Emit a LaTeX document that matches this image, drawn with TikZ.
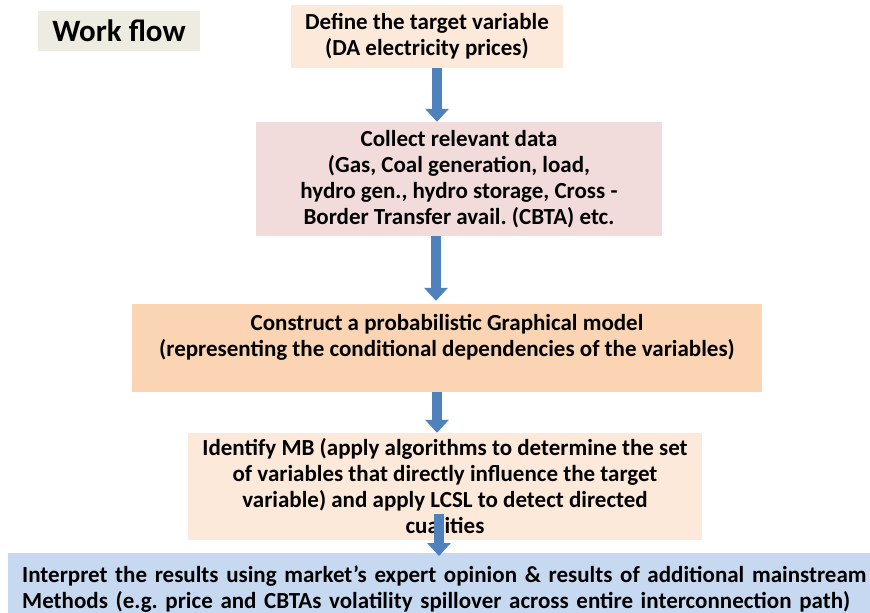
\documentclass[tikz,border=0pt]{standalone}
\usepackage{fontspec}
\setmainfont{Carlito}
\usetikzlibrary{arrows.meta,calc}

\definecolor{titlebg}{HTML}{EEECE1}
\definecolor{peach}{HTML}{FDE9D9}
\definecolor{rose}{HTML}{F2DCDB}
\definecolor{apricot}{HTML}{FBD4B4}
\definecolor{skyblue}{HTML}{C6D9F1}
\definecolor{arrowblue}{HTML}{4F81BD}

\tikzset{
  box/.style={rectangle, draw=none, inner sep=0pt, align=center,
    font=\fontsize{23}{26}\selectfont\bfseries\frenchspacing},
  flowarrow/.style={draw=arrowblue, line width=10pt,
    -{Triangle[width=23pt,length=13pt,fill=arrowblue]}},
}

\begin{document}
\begin{tikzpicture}[x=1pt,y=-1pt]
  \useasboundingbox (0,0) rectangle (870,613);

  % heading
  \node[box, fill=titlebg, minimum width=162pt, minimum height=40pt,
        font=\fontsize{31}{34}\selectfont\bfseries] (title) at (119,31) {Work flow};

  % workflow steps
  \node[box, fill=peach, minimum width=272pt, minimum height=63pt] (define) at (427,36.5)
    {Define the target variable\\(DA electricity prices)};
  \node[box, fill=rose, minimum width=406pt, minimum height=114pt] (collect) at (459,179)
    {Collect relevant data\\(Gas, Coal generation, load,\\hydro gen., hydro storage, Cross -\\Border Transfer avail. (CBTA) etc.};
  \node[box, fill=apricot, minimum width=630pt, minimum height=88pt] (construct) at (447,348)
    {Construct a probabilistic Graphical model\\(representing the conditional dependencies of the variables)\\\mbox{}};
  \node[box, fill=peach, minimum width=514pt, minimum height=107pt] (identify) at (445,486.5)
    {Identify MB (apply algorithms to determine the set\\of variables that directly influence the target\\variable) and apply LCSL to detect directed\\cualities};
  \node[box, fill=skyblue, minimum width=880pt, minimum height=71pt, anchor=north west,
        align=left, text width=860pt, inner xsep=14pt] (interpret) at (8,553)
    {Interpret the results using market’s expert opinion \& results of additional mainstream\\Methods (e.g. price and CBTAs volatility spillover across entire interconnection path)};

  % arrow columns
  \coordinate (a1) at (437,0);
  \coordinate (a2) at (436,0);
  \coordinate (a3) at (437,0);
  \coordinate (a4) at (439,0);

  % connectors
  \draw[flowarrow] (define.south -| a1) -- (collect.north -| a1);
  \draw[flowarrow] (collect.south -| a2) -- ($(construct.north -| a2)+(0,-3)$);
  \draw[flowarrow] (construct.south -| a3) -- (identify.north -| a3);
  \draw[flowarrow] ($(identify.south -| a4)+(0,-26)$) -- ($(interpret.north -| a4)+(0,3)$);
\end{tikzpicture}
\end{document}
